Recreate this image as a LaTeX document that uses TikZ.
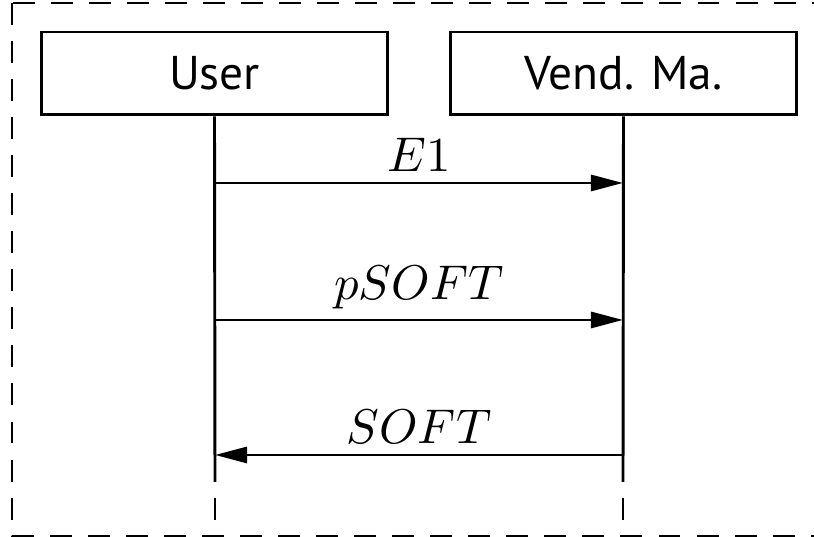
\documentclass[tikz,border=0pt]{standalone}
\usepackage{fontspec}
\newfontfamily\boxfont{PT Sans}
\usetikzlibrary{arrows.meta}

\tikzset{every picture/.style={line width=0.6pt}}
\tikzset{
  actor/.style={draw, inner sep=0pt, minimum width=71.1pt, minimum height=17pt,
    font=\boxfont\fontsize{9.7}{12}\selectfont},
  msg/.style={-{Triangle[length=6.6pt,width=3.3pt]}},
  lbl/.style={above, inner sep=2pt},
  framedash/.style={dash pattern=on 4.5pt off 3.3pt},
}

\begin{document}
\begin{tikzpicture}[x=0.205pt,y=0.205pt,yscale=-1,xscale=1]
\useasboundingbox (0,0) rectangle (814,537);

% Frame
\draw[framedash] (12,3) rectangle (822,536);

% Text Node
\node[actor] (user) at (214.5,73.5) {User};
% Text Node
\node[actor] (vend) at (623.5,73.5) {Vend. Ma.};

% Lifelines
\coordinate (userlow) at (215,482);
\coordinate (vendlow) at (623,482);
\coordinate (userend) at (215,523);
\coordinate (vendend) at (623,523);
\draw (user.south) -- (userlow);
\draw (vend.south) -- (vendlow);
\draw[framedash, dash phase=4.5pt] (userlow) -- (userend);
\draw[framedash, dash phase=4.5pt] (vendlow) -- (vendend);

% Messages
\coordinate (u1) at (215,183);
\coordinate (v1) at (623,183);
\coordinate (u2) at (215,320);
\coordinate (v2) at (623,320);
\coordinate (u3) at (215,455);
\coordinate (v3) at (623,455);

% Connection
\draw[msg] (u1) -- node[lbl] {$E1$} (v1);
% Connection
\draw[msg] (u2) -- node[lbl] {$pSOFT$} (v2);
% Connection
\draw[msg] (v3) -- node[lbl] {$SOFT$} (u3);

\end{tikzpicture}
\end{document}
